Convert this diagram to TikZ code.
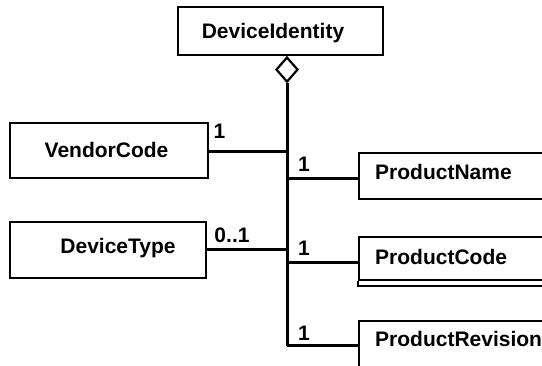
\documentclass[tikz,border=0pt]{standalone}
\usepackage{fontspec}
\setmainfont{Liberation Sans}
\usetikzlibrary{shapes.geometric}
\begin{document}
\begin{tikzpicture}[x=1pt,y=-1pt,
  cls/.style={draw,line width=2pt,inner sep=0pt,font=\fontsize{21}{24}\selectfont\bfseries},
  lbl/.style={inner sep=0pt,font=\fontsize{21}{24}\selectfont\bfseries},
  conn/.style={line width=3pt},
  agg/.style={draw,diamond,aspect=0.88,line width=2.2pt,fill=white,inner sep=0pt,minimum width=22pt,minimum height=25pt}]
\useasboundingbox (0,0) rectangle (542,366);
% boxes
\node[cls,minimum width=205pt,minimum height=48pt] (di) at (280.5,31) {};
\node[lbl] (dit) at (273,33) {DeviceIdentity};
\node[cls,minimum width=198pt,minimum height=55pt] (vc) at (109,150.5) {};
\node[lbl] (vct) at (106.5,150) {VendorCode};
\node[cls,minimum width=196pt,minimum height=56pt] (dt) at (108,250) {};
\node[lbl] (dtt) at (118,248) {DeviceType};
\node[cls,minimum width=240pt,minimum height=46pt,anchor=north west] (pn) at (358,152) {};
\node[lbl,anchor=west] (pnt) at (375,172) {ProductName};
\node[cls,minimum width=240pt,minimum height=43pt,anchor=north west] (pc) at (358,236) {};
\node[lbl,anchor=west] (pct) at (375,257) {ProductCode};
\node[cls,minimum width=240pt,minimum height=60pt,anchor=north west] (pr) at (358,320) {};
\node[lbl,anchor=west] (prt) at (375,339) {ProductRevision};
\draw[line width=1.4pt] (pc.south west) -- ++(0,5) -- ++(240,0);
% aggregation diamond
\node[agg,anchor=north] (ag) at (di.south -| 287,0) {};
\coordinate (vend) at (287,346);
\coordinate (jv) at (287,152);
\coordinate (jd) at (287,250);
\coordinate (jn) at (287,179);
\coordinate (jc) at (287,263);
% connectors
\draw[conn] (ag.south) -- (vend);
\draw[conn] (vc.east |- jv) -- (jv);
\draw[conn] (dt.east |- jd) -- (jd);
\draw[conn] (jn) -- (pn.west |- jn);
\draw[conn] (jc) -- (pc.west |- jc);
\draw[conn] (vend) -- (pr.west |- vend);
% multiplicities
\node[lbl] (m1) at (219.5,131) {1};
\node[lbl] (m2) at (232,235) {0..1};
\node[lbl] (m3) at (304,164) {1};
\node[lbl] (m4) at (304,248.5) {1};
\node[lbl] (m5) at (304,333.5) {1};
\end{tikzpicture}
\end{document}
